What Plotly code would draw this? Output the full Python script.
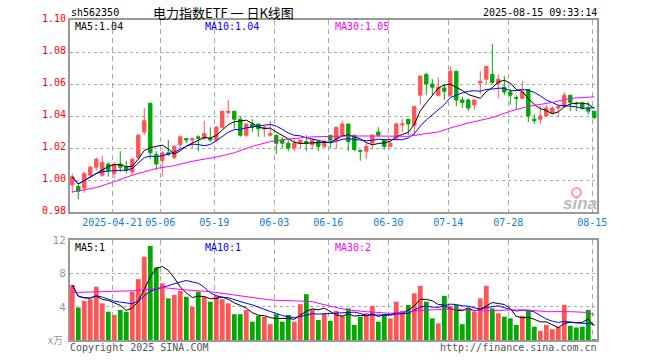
import pandas as pd
import plotly.graph_objects as go

# ---------------- data ----------------
holidays = ["2025-05-01", "2025-05-02", "2025-05-05", "2025-06-02"]
dates = [d.strftime("%Y-%m-%d") for d in
         pd.bdate_range("2025-04-10", "2025-08-15", freq="C", holidays=holidays)]

open_ = [0.997, 0.996, 0.995, 1.003, 1.008, 1.003, 1.010, 1.004, 1.010, 1.008,
         1.005, 1.014, 1.030, 1.048, 1.016, 1.012, 1.017, 1.014, 1.022, 1.026,
         1.025, 1.027, 1.026, 1.026, 1.025, 1.033, 1.042, 1.043, 1.038, 1.028,
         1.035, 1.035, 1.032, 1.028, 1.028, 1.025, 1.023, 1.020, 1.023, 1.024,
         1.022, 1.024, 1.021, 1.028, 1.025, 1.028, 1.035, 1.028, 1.0185, 1.018,
         1.023, 1.030, 1.025, 1.021, 1.026, 1.0345, 1.038, 1.034, 1.053, 1.066,
         1.060, 1.053, 1.0575, 1.053, 1.068, 1.050, 1.050, 1.047, 1.0606, 1.063,
         1.066, 1.060, 1.058, 1.055, 1.0515, 1.051, 1.0565, 1.038, 1.038, 1.040,
         1.042, 1.045, 1.046, 1.053, 1.048, 1.048, 1.045, 1.043]
high = [1.004, 0.997, 1.005, 1.009, 1.014, 1.015, 1.011, 1.011, 1.018, 1.012,
        1.014, 1.029, 1.045, 1.048, 1.018, 1.018, 1.025, 1.022, 1.028, 1.026,
        1.026, 1.028, 1.037, 1.033, 1.034, 1.043, 1.050, 1.043, 1.040, 1.035,
        1.038, 1.035, 1.034, 1.037, 1.028, 1.027, 1.025, 1.025, 1.025, 1.028,
        1.026, 1.025, 1.025, 1.028, 1.033, 1.037, 1.035, 1.028, 1.0185, 1.023,
        1.029, 1.033, 1.025, 1.024, 1.036, 1.038, 1.038, 1.046, 1.065, 1.067,
        1.063, 1.064, 1.060, 1.071, 1.068, 1.052, 1.051, 1.050, 1.068, 1.071,
        1.085, 1.066, 1.065, 1.057, 1.053, 1.062, 1.0565, 1.041, 1.046, 1.047,
        1.046, 1.047, 1.055, 1.053, 1.049, 1.049, 1.049, 1.043]
low = [0.992, 0.988, 0.992, 1.001, 1.006, 1.002, 1.002, 1.001, 1.005, 1.004,
       1.003, 1.013, 1.028, 1.013, 1.006, 1.002, 1.015, 1.013, 1.020, 1.023,
       1.020, 1.018, 1.025, 1.024, 1.024, 1.032, 1.041, 1.032, 1.027, 1.027,
       1.030, 1.027, 1.027, 1.027, 1.016, 1.020, 1.018, 1.018, 1.020, 1.018,
       1.019, 1.018, 1.020, 1.020, 1.020, 1.027, 1.018, 1.018, 1.012, 1.013,
       1.019, 1.027, 1.019, 1.021, 1.025, 1.030, 1.028, 1.028, 1.047, 1.053,
       1.053, 1.052, 1.050, 1.052, 1.046, 1.045, 1.043, 1.044, 1.054, 1.060,
       1.060, 1.051, 1.053, 1.047, 1.044, 1.051, 1.036, 1.035, 1.035, 1.040,
       1.041, 1.040, 1.045, 1.043, 1.043, 1.044, 1.041, 1.038]
close = [1.002, 0.993, 1.004, 1.008, 1.013, 1.011, 1.006, 1.010, 1.008, 1.006,
         1.013, 1.028, 1.037, 1.017, 1.010, 1.017, 1.016, 1.021, 1.027, 1.025,
         1.026, 1.026, 1.029, 1.025, 1.033, 1.043, 1.043, 1.038, 1.028, 1.035,
         1.033, 1.032, 1.033, 1.029, 1.023, 1.023, 1.020, 1.023, 1.025, 1.023,
         1.025, 1.021, 1.024, 1.025, 1.033, 1.035, 1.024, 1.019, 1.018, 1.021,
         1.028, 1.028, 1.021, 1.023, 1.035, 1.035, 1.035, 1.046, 1.065, 1.060,
         1.058, 1.058, 1.0555, 1.068, 1.050, 1.0485, 1.045, 1.050, 1.0617, 1.071,
         1.061, 1.063, 1.055, 1.053, 1.051, 1.055, 1.040, 1.037, 1.040, 1.045,
         1.045, 1.046, 1.053, 1.0485, 1.0477, 1.045, 1.043, 1.039]
volume = [6.6, 3.9, 4.7, 4.9, 6.4, 4.4, 3.4, 3.0, 3.6, 3.4,
          5.8, 7.3, 10.0, 11.3, 8.7, 6.8, 5.0, 5.4, 5.9, 5.2,
          4.0, 5.8, 5.2, 4.6, 5.3, 4.9, 4.4, 3.1, 3.1, 3.6,
          2.2, 2.9, 2.8, 1.9, 3.1, 2.2, 3.0, 2.2, 4.3, 5.5,
          3.7, 2.4, 3.2, 2.3, 3.5, 2.9, 3.8, 1.8, 2.8, 3.2,
          4.1, 2.2, 3.0, 2.6, 4.6, 3.5, 4.2, 5.6, 6.5, 4.6,
          2.6, 2.0, 5.3, 4.1, 4.2, 1.9, 3.8, 3.4, 5.0, 6.5,
          3.8, 3.2, 2.8, 2.6, 1.8, 2.9, 3.5, 1.6, 1.1, 1.8,
          1.3, 1.6, 4.2, 1.7, 1.5, 1.6, 3.6, 0.1]

# MA30 lines (they include data before the window)
ma30_idx = [0, 4, 7, 10, 14, 17, 20, 24, 27, 30, 33, 36, 40, 43, 46, 50, 53, 56,
            59, 61, 63, 66, 70, 73, 76, 80, 83, 87]
ma30_val = [0.9925, 0.9953, 0.999, 1.003, 1.0072, 1.009, 1.0117, 1.0143, 1.017,
            1.021, 1.024, 1.0256, 1.027, 1.0273, 1.0275, 1.0275, 1.0275, 1.0273,
            1.029, 1.030, 1.0325, 1.0356, 1.039, 1.043, 1.046, 1.0485, 1.051, 1.052]
vma30_idx = [0, 5, 10, 13, 15, 19, 23, 27, 30, 33, 37, 40, 43, 46, 49, 53, 56,
             59, 63, 66, 69, 73, 76, 79, 83, 86, 87]
vma30_val = [5.7, 5.8, 5.9, 6.1, 6.3, 6.0, 5.8, 5.4, 5.1, 4.8, 4.7, 4.6, 4.05,
             3.6, 3.4, 3.2, 3.4, 3.6, 3.7, 3.6, 3.5, 3.6, 3.6, 3.4, 3.4, 3.3, 3.0]

tick_idx = [7, 15, 24, 34, 43, 53, 63, 73, 87]
tick_text = ["2025-04-21", "05-06", "05-19", "06-03", "06-16", "06-30",
             "07-14", "07-28", "08-15"]
price_ticks = [0.98, 1.00, 1.02, 1.04, 1.06, 1.08, 1.10]
vol_ticks = [4, 8, 12]

# ---------------- styling ----------------
RED = "#FF5555"
GREEN = "#00AA00"
GRID = "#AAAAAA"
MONO = "DejaVu Sans Mono"
FW, FH = 660, 360

idx = list(range(len(close)))
s_close = pd.Series(close)
ma5 = s_close.rolling(5, min_periods=1).mean()
ma10 = s_close.rolling(10, min_periods=1).mean()
s_vol = pd.Series(volume)
vma5 = s_vol.rolling(5, min_periods=1).mean()
vma10 = s_vol.rolling(10, min_periods=1).mean()
bar_colors = [RED if c >= o else GREEN for o, c in zip(open_, close)]

fig = go.Figure()
fig.add_trace(go.Candlestick(
    x=idx, open=open_, high=high, low=low, close=close,
    increasing=dict(line=dict(color=RED, width=1), fillcolor=RED),
    decreasing=dict(line=dict(color=GREEN, width=1), fillcolor=GREEN),
    whiskerwidth=0, xaxis="x", yaxis="y", showlegend=False, hoverinfo="skip"))
fig.add_trace(go.Scatter(x=idx, y=ma5, mode="lines", line=dict(color="black", width=1),
                         xaxis="x", yaxis="y", showlegend=False))
fig.add_trace(go.Scatter(x=idx, y=ma10, mode="lines", line=dict(color="#0000FF", width=1),
                         xaxis="x", yaxis="y", showlegend=False))
fig.add_trace(go.Scatter(x=ma30_idx, y=ma30_val, mode="lines",
                         line=dict(color="#FF00FF", width=1),
                         xaxis="x", yaxis="y", showlegend=False))

fig.add_trace(go.Bar(x=idx, y=volume, marker=dict(color=bar_colors, line=dict(width=0)),
                     width=0.8, xaxis="x2", yaxis="y2", showlegend=False))
fig.add_trace(go.Scatter(x=idx, y=vma5, mode="lines", line=dict(color="black", width=1),
                         xaxis="x2", yaxis="y2", showlegend=False))
fig.add_trace(go.Scatter(x=idx, y=vma10, mode="lines", line=dict(color="#0000FF", width=1),
                         xaxis="x2", yaxis="y2", showlegend=False))
fig.add_trace(go.Scatter(x=vma30_idx, y=vma30_val, mode="lines",
                         line=dict(color="#FF00FF", width=1),
                         xaxis="x2", yaxis="y2", showlegend=False))

# plot area in page pixels
L, R, T, B = 70, 597, 20, 340
W, H = R - L, B - T


def px(x):
    return (x - L) / W


def py(y):
    return (B - y) / H


grid_x = [i - 0.33 for i in tick_idx]
xrange_ = [-0.38, 87.45]
common_x = dict(range=xrange_, showgrid=True, gridcolor=GRID, griddash="5px,4px",
                gridwidth=1, zeroline=False, showline=True, mirror=True,
                linecolor="#999999", linewidth=2, ticks="", tickmode="array",
                tickvals=grid_x, fixedrange=True, automargin=False)

fig.update_layout(
    width=FW, height=FH,
    margin=dict(l=L, r=FW - R, t=T, b=FH - B, pad=0),
    paper_bgcolor="white", plot_bgcolor="white",
    boxgap=0.2, bargap=0.2, hovermode=False,
    xaxis=dict(common_x, domain=[0, 1], anchor="y", rangeslider=dict(visible=False),
               ticktext=tick_text, tickfont=dict(family=MONO, size=10, color="#1080D0")),
    yaxis=dict(domain=[py(212), 1], range=[0.98, 1.10], tickmode="array",
               tickvals=price_ticks, ticktext=[f"{v:.2f}" for v in price_ticks],
               tickfont=dict(family=MONO, size=10, color="red"), showgrid=True,
               gridcolor=GRID, griddash="dot", gridwidth=1, zeroline=False,
               showline=True, mirror=True, linecolor="#999999", linewidth=2,
               ticks="", ticklabelshift=-2, fixedrange=True, automargin=False),
    xaxis2=dict(common_x, domain=[0, 1], anchor="y2", showticklabels=False,
                ticktext=tick_text),
    yaxis2=dict(domain=[0, py(240)], range=[0, 12], tickmode="array",
                tickvals=vol_ticks, ticktext=[str(v) for v in vol_ticks],
                tickfont=dict(family=MONO, size=11, color="#999999"), showgrid=True,
                gridcolor=GRID, griddash="dot", gridwidth=1, zeroline=False,
                showline=True, mirror=True, linecolor="#999999", linewidth=2,
                ticks="", fixedrange=True, automargin=False),
)


def note(text, x, y, anchor="left", color="black", size=10, family=MONO, **kw):
    fig.add_annotation(text=text, x=px(x), y=py(y), xref="paper", yref="paper",
                       xanchor=anchor, yanchor="middle", showarrow=False, borderpad=0,
                       font=dict(family=family, size=size, color=color), **kw)


note("sh562350", 70, 13)
note("电力指数ETF 一 日K线图", 223, 12, anchor="center", size=13,
     family="Noto Sans CJK SC")
note("2025-08-15 09:33:14", 598, 13, anchor="right")
note("MA5:1.04", 74, 27)
note("MA10:1.04", 204, 27, color="#0000FF")
note("MA30:1.05", 334, 27, color="#FF00FF")
note("MA5:1", 74, 247)
note("MA10:1", 204, 247, color="#0000FF")
note("MA30:2", 334, 247, color="#FF00FF")
note("x万", 64, 339, anchor="right", color="#999999", size=10, family="Noto Sans CJK SC")
note("Copyright 2025 SINA.COM", 69, 347, color="#555555")
note("http://finance.sina.com.cn", 598, 347, anchor="right", color="#555555")
note("<b><i>sina</i></b>", 598, 203, anchor="right", color="#BBBBBB", size=17,
     family="Liberation Sans")
fig.add_shape(type="circle", xref="paper", yref="paper",
              x0=px(572), x1=px(581), y0=py(197), y1=py(188),
              line=dict(color="#F4A0A0", width=2), fillcolor="rgba(0,0,0,0)")

# remove the default page margin so the figure sits at the window's top-left corner
fig.write_html("out.html",
               config={"displayModeBar": False, "staticPlot": True},
               post_script="document.body.style.margin='0';"
                           "document.body.style.overflow='hidden';")
